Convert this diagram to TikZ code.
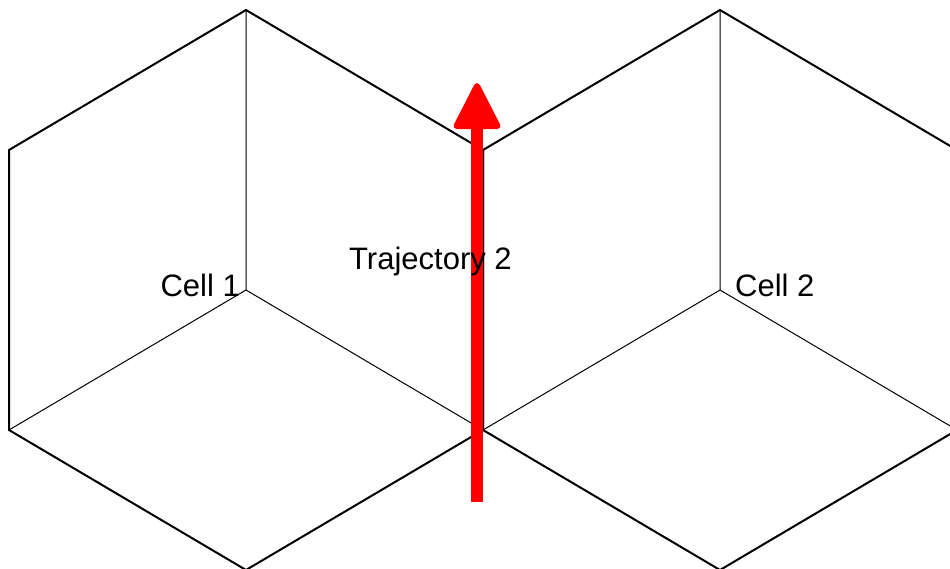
\documentclass[tikz,border=0pt]{standalone}
\usepackage{fontspec}
\setmainfont{Liberation Sans}
\begin{document}
\begin{tikzpicture}[x=1pt,y=-1pt,
  outer/.style={draw=black,line width=2pt,line join=miter},
  inner/.style={draw=black,line width=1pt},
  lbl/.style={inner sep=0pt,font=\fontsize{31}{37}\selectfont},
  shaft/.style={draw=red,line width=12pt},
  tiphead/.style={fill=red,draw=red,line width=6pt,line join=round}]
\useasboundingbox (0,0) rectangle (950,568);
\clip (0,0) rectangle (950,568);
% Cell 1
\coordinate (c1) at (246,290);
\coordinate (c1t) at (246,10);
\coordinate (c1ur) at (483,150);
\coordinate (c1lr) at (483,430);
\coordinate (c1b) at (246,570);
\coordinate (c1ll) at (9,430);
\coordinate (c1ul) at (9,150);
% Cell 2
\coordinate (c2) at (720,290);
\coordinate (c2t) at (720,10);
\coordinate (c2ur) at (957,150);
\coordinate (c2lr) at (957,430);
\coordinate (c2b) at (720,570);
\coordinate (c2ll) at (483,430);
\coordinate (c2ul) at (483,150);
\draw[outer] (c1t) -- (c1ur) -- (c1lr) -- (c1b) -- (c1ll) -- (c1ul) -- cycle;
\draw[inner] (c1) -- (c1t) (c1) -- (c1ll) (c1) -- (c1lr);
\draw[outer] (c2t) -- (c2ur) -- (c2lr) -- (c2b) -- (c2ll) -- (c2ul) -- cycle;
\draw[inner] (c2) -- (c2t) (c2) -- (c2ll) (c2) -- (c2lr);
% Trajectory arrow
\coordinate (tail) at (477,502);
\coordinate (base) at (477,126);
\coordinate (head) at (477,86);
\draw[shaft] (tail) -- (base);
\filldraw[tiphead] (head) -- ([xshift=20.5pt]base) -- ([xshift=-20.5pt]base) -- cycle;
% Labels
\node[lbl,anchor=base east] (l1) at (240,296) {Cell 1};
\node[lbl,anchor=base west] (l2) at (735,296) {Cell 2};
\node[lbl,anchor=base west] (lt) at (349,269) {Trajectory 2};
\end{tikzpicture}
\end{document}
